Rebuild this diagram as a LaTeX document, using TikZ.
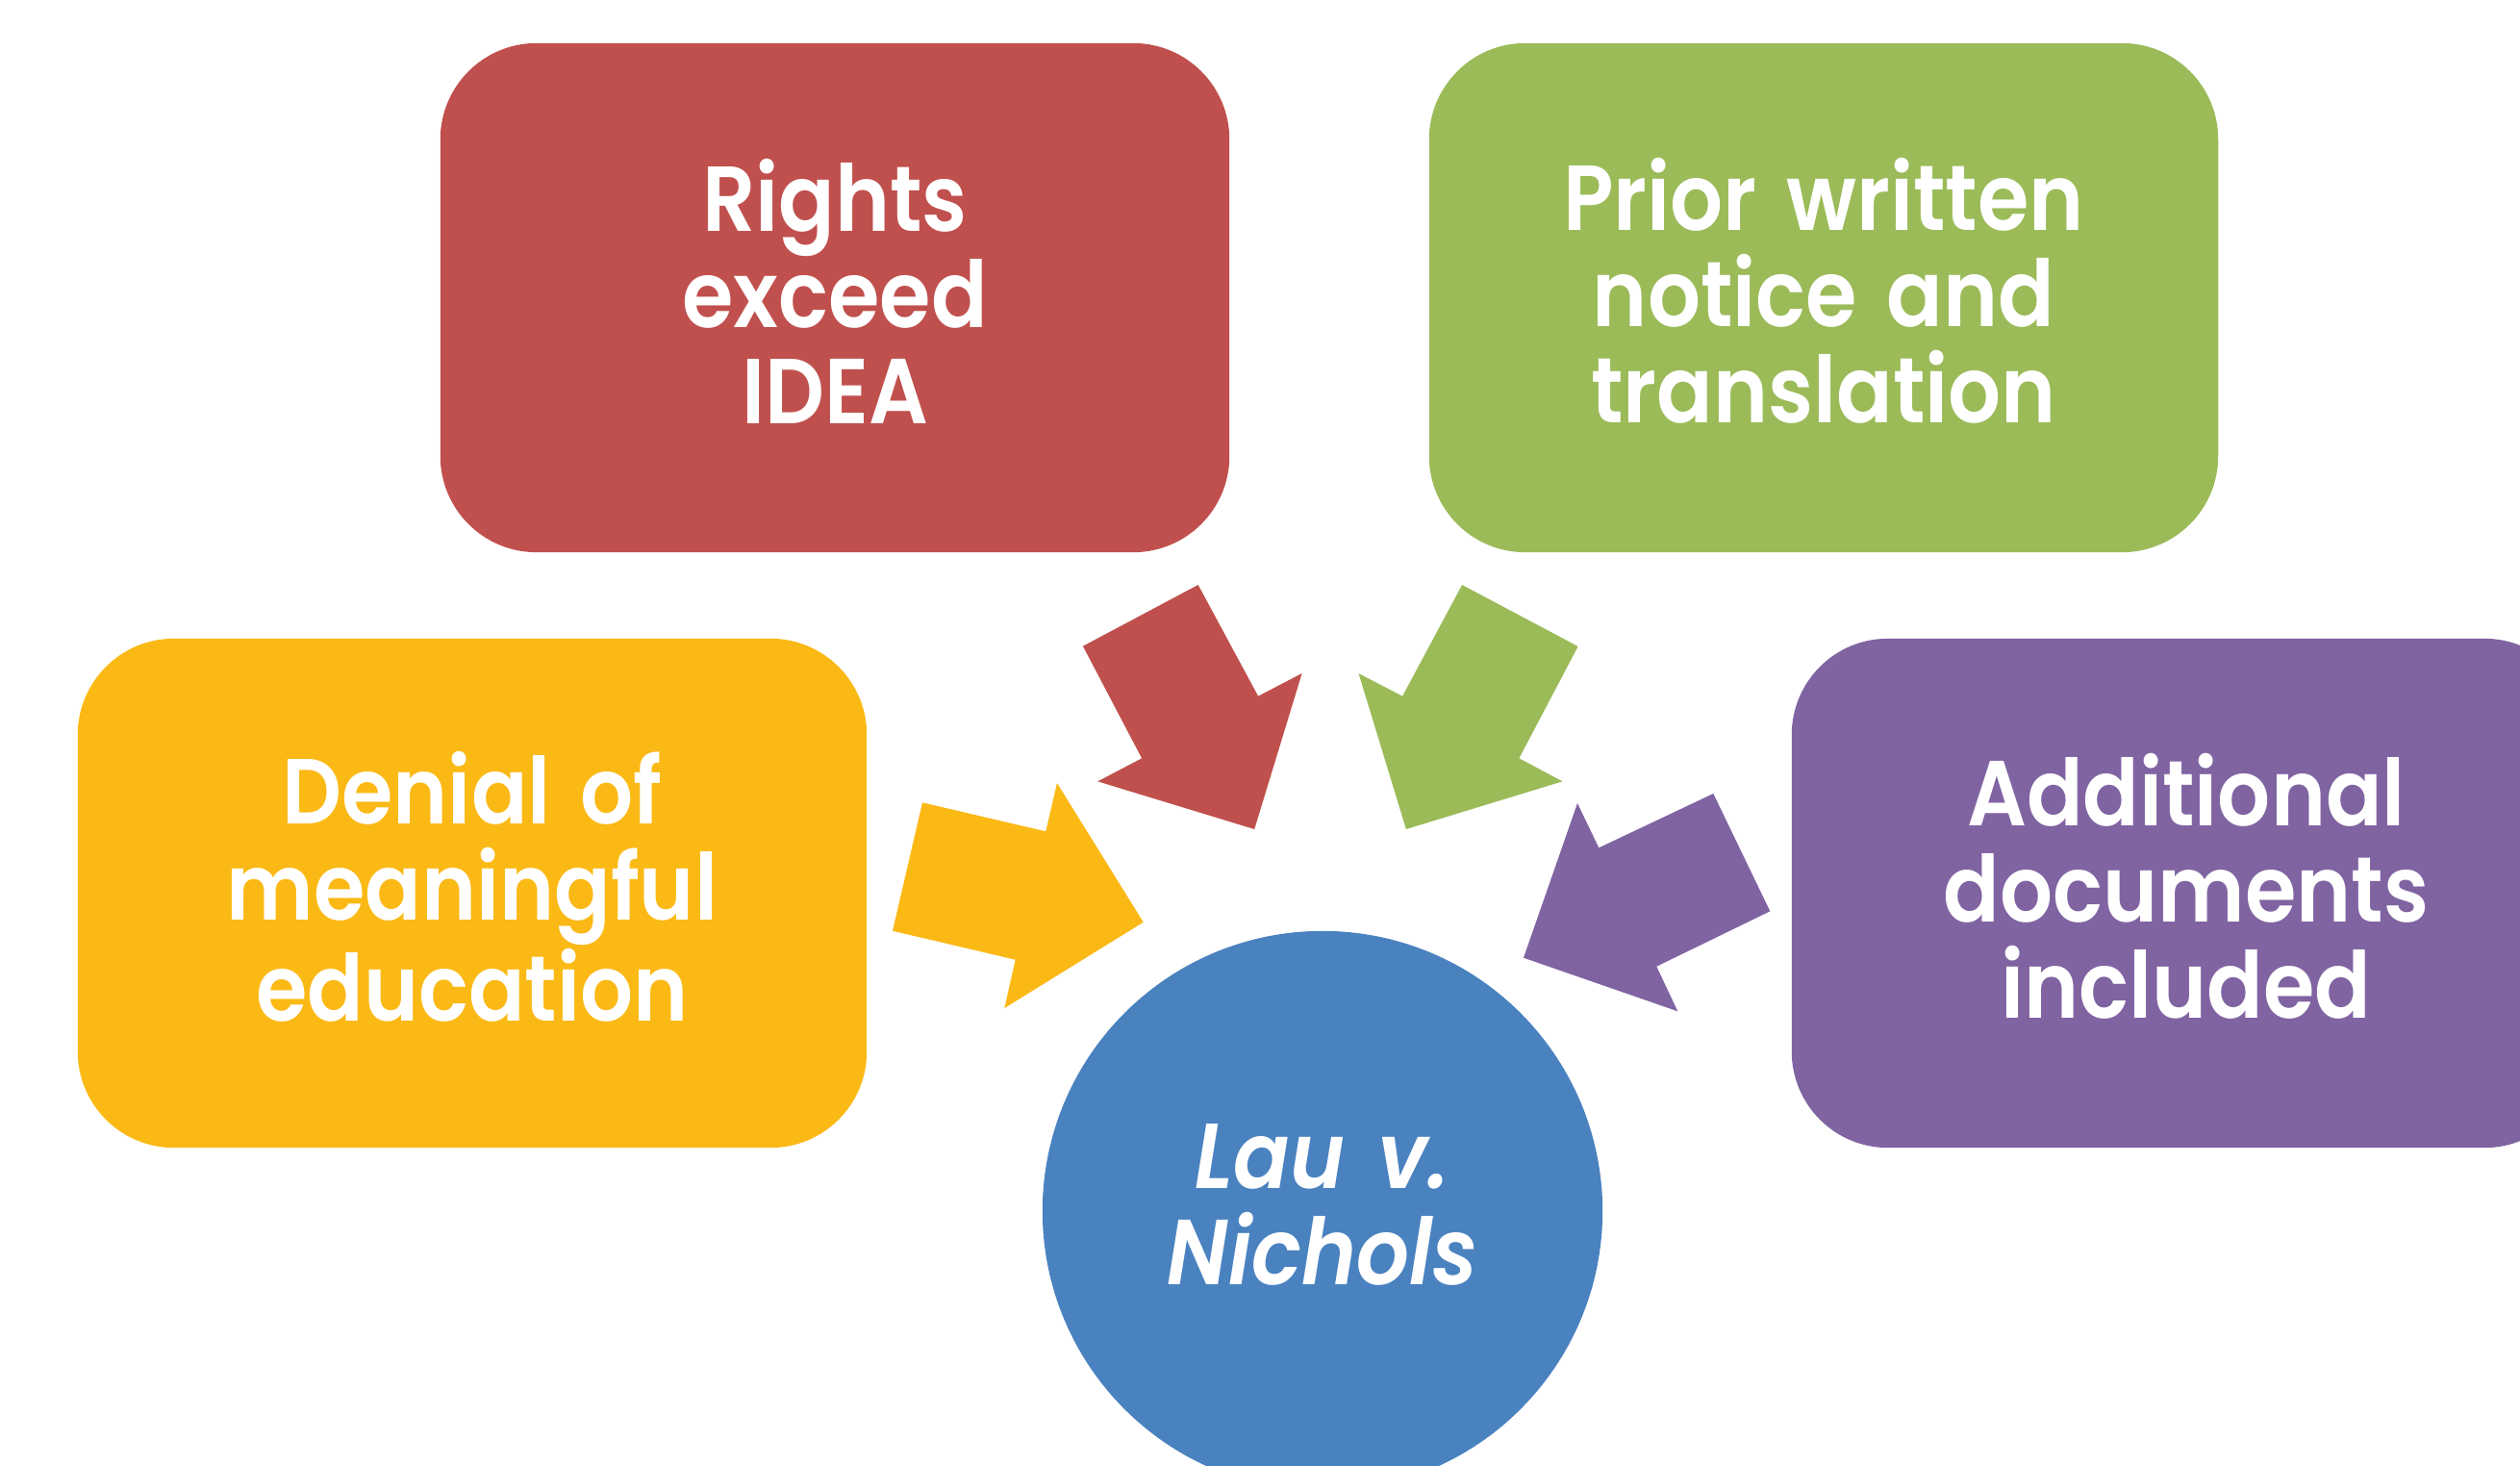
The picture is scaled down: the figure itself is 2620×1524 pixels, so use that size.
\documentclass[tikz,border=0pt]{standalone}
\usepackage{fontspec}
\setmainfont{Poppins}[BoldFont={Poppins SemiBold}, BoldItalicFont={Poppins SemiBold Italic}, FakeStretch=0.9, WordSpace=1.5]
\definecolor{cred}{HTML}{C0504D}
\definecolor{cgreen}{HTML}{9BBB59}
\definecolor{cyellow}{HTML}{FBB916}
\definecolor{cpurple}{HTML}{8064A2}
\definecolor{cblue}{HTML}{4A82C0}
\begin{document}
\begin{tikzpicture}[x=0.01cm,y=-0.01cm,
  lbl/.style={text=white, align=center, inner sep=0pt, yshift=0.07cm,
    font=\fontsize{27.3}{28.45}\selectfont\bfseries},
  box/.style={rectangle, rounded corners=1cm, minimum width=8.2cm, minimum height=5.29cm, inner sep=0pt},
  hub/.style={circle, minimum size=5.82cm, inner sep=0pt},
  hublbl/.style={lbl, font=\fontsize{27.3}{28.45}\selectfont\bfseries\itshape},
  blockarrow/.style={draw=none}]
\useasboundingbox (0,0) rectangle (2620,1524);
\clip (0,0) rectangle (2620,1524);
% boxes
\node[box, fill=cred] (rights) at (868,309.5) {};
\node[box, fill=cgreen] (prior) at (1896,309.5) {};
\node[box, fill=cyellow] (denial) at (491,928.5) {};
\node[box, fill=cpurple] (addl) at (2273,928.5) {};
\node[hub, fill=cblue] (lau) at (1375,1259) {};
% texts
\node[lbl] (rightsT) at (rights.center) {Rights\\exceed\\IDEA};
\node[lbl] (priorT) at (prior.center) {Prior written\\notice and\\translation};
\node[lbl] (denialT) at (denial.center) {Denial of\\meaningful\\education};
\node[lbl] (addlT) at (addl.center) {Additional\\documents\\included};
\node[hublbl] (lauT) at (lau.center) {Lau v.\\Nichols};
% block arrows
\fill[blockarrow, cred] (1125.9,671.7) -- (1245.7,608) -- (1308.1,723.7) -- (1353.6,700) -- (1304.2,862) -- (1141.2,812.3) -- (1187.1,788.3) -- cycle;
\fill[blockarrow, cgreen] (1520.1,608) -- (1640.6,672) -- (1579.4,788.3) -- (1624.5,812.3) -- (1461.9,862) -- (1412.5,700) -- (1458.1,723.7) -- cycle;
\fill[blockarrow, cyellow] (959,834.3) -- (1087.3,864.3) -- (1099,814) -- (1188.7,958.7) -- (1044.3,1048) -- (1055.7,997.7) -- (928,967.7) -- cycle;
\fill[blockarrow, cpurple] (1781.3,825) -- (1840.3,947.3) -- (1722.3,1004.7) -- (1744.3,1051.3) -- (1584,995.7) -- (1640,835) -- (1662.3,881.3) -- cycle;
\end{tikzpicture}
\end{document}
